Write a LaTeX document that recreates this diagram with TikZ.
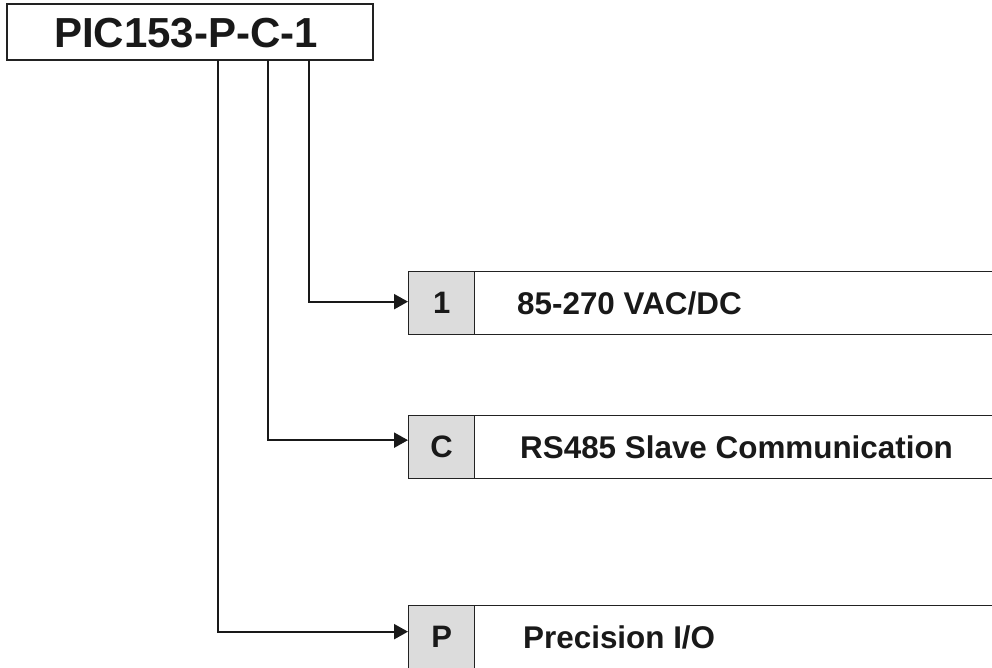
\documentclass[tikz,border=0pt]{standalone}
\usepackage{fontspec}
\setmainfont{Liberation Sans}
\usetikzlibrary{arrows.meta}
\definecolor{cellgray}{HTML}{DCDCDC}
\definecolor{edge}{HTML}{222222}
\tikzset{
  titlebox/.style={draw=edge, line width=1.4pt, minimum width=366pt, minimum height=56pt, inner sep=0pt, font=\fontsize{42}{42}\bfseries\selectfont, text=black!90},
  cellbox/.style={draw=edge, line width=1.3pt, fill=cellgray, minimum width=66pt, minimum height=63pt, inner sep=0pt, anchor=north west, font=\fontsize{31}{31}\bfseries\selectfont, text=black!90},
  descbox/.style={draw=edge, line width=1.3pt, fill=white, minimum width=540pt, minimum height=63pt, inner sep=0pt, anchor=north west},
  desctext/.style={anchor=west, inner sep=0pt, font=\fontsize{31.4}{31.4}\bfseries\selectfont, text=black!90},
  conn/.style={line width=2.2pt, draw=black!90, -{Triangle[length=14pt,width=15pt]}}
}
\begin{document}
\begin{tikzpicture}[x=1pt,y=-1pt]
\useasboundingbox (0,0) rectangle (992,667);
\clip (0,0) rectangle (992,667);
\node[titlebox, text depth=0pt, text height=30pt] (title) at (190,32) {\hspace*{-8pt}PIC153-P-C-1};
% rows
\node[descbox] (d1) at (474,271) {};
\node[cellbox] (c1) at (408,271) {1};
\node[desctext] (t1) at (517,303) {85-270 VAC/DC};
\node[descbox] (dC) at (474,415) {};
\node[cellbox] (cC) at (408,415) {C};
\node[desctext] (tC) at (520,447) {RS485 Slave Communication};
\node[descbox] (dP) at (474,605) {};
\node[cellbox] (cP) at (408,605) {P};
\node[desctext] (tP) at (523,637) {Precision I/O};
% connector start points on title box bottom
\coordinate (s1) at (309,60);
\coordinate (sC) at (268,60);
\coordinate (sP) at (218,60);
\coordinate (e1) at ([yshift=1.5pt]c1.west);
\coordinate (eC) at ([yshift=7pt]cC.west);
\coordinate (eP) at ([yshift=5.5pt]cP.west);
\draw[conn] (s1) |- (e1);
\draw[conn] (sC) |- (eC);
\draw[conn] (sP) |- (eP);
\end{tikzpicture}
\end{document}
